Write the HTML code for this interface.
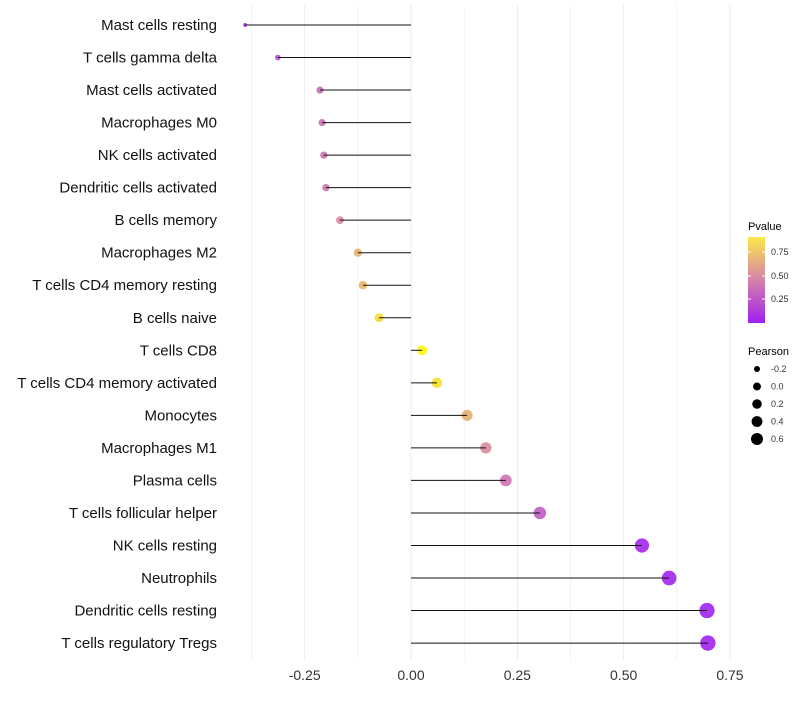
<!DOCTYPE html>
<html><head><meta charset="utf-8"><style>
body{margin:0;background:#fff;font-family:"Liberation Sans",sans-serif;}
</style></head><body>
<svg id="chart" width="800" height="700" xmlns="http://www.w3.org/2000/svg">
<defs><linearGradient id="pg" x1="0" y1="1" x2="0" y2="0">
<stop offset="0" stop-color="#A020F0"/><stop offset="0.55" stop-color="#D98CA0"/><stop offset="1" stop-color="#FBE94A"/>
</linearGradient></defs>
<g id="grid"></g><g id="marks"></g><g id="labels"></g><g id="legend"></g>
</svg>
<script>
const categories=["Mast cells resting","T cells gamma delta","Mast cells activated","Macrophages M0","NK cells activated","Dendritic cells activated","B cells memory","Macrophages M2","T cells CD4 memory resting","B cells naive","T cells CD8","T cells CD4 memory activated","Monocytes","Macrophages M1","Plasma cells","T cells follicular helper","NK cells resting","Neutrophils","Dendritic cells resting","T cells regulatory  Tregs"];
const pearson=[-0.39,-0.313,-0.214,-0.209,-0.205,-0.2,-0.167,-0.125,-0.113,-0.075,0.026,0.061,0.132,0.176,0.223,0.303,0.543,0.607,0.696,0.698];
const pvalue=[0.08,0.2,0.38,0.4,0.42,0.43,0.52,0.7,0.72,0.85,0.98,0.88,0.68,0.55,0.42,0.3,0.03,0.02,0.01,0.01];
const xTicks=[-0.25,0,0.25,0.5,0.75];
const xTickLabels=["-0.25","0.00","0.25","0.50","0.75"];
const NS="http://www.w3.org/2000/svg";
const X=v=>411+v*425.3;
const Y=i=>25+i*32.53;
const R=v=>Math.sqrt(Math.max(3,23.5+50*v));
const RL=v=>Math.sqrt(Math.max(1.5,15.75+33.75*v));
function col(p){
  const s=[[0,[160,32,240]],[0.55,[217,140,160]],[1,[255,255,0]]];
  for(let k=0;k<s.length-1;k++){if(p<=s[k+1][0]){const t=(p-s[k][0])/(s[k+1][0]-s[k][0]);const c=s[k][1].map((a,j)=>Math.round(a+(s[k+1][1][j]-a)*t));return `rgb(${c})`;}}
  return "rgb(255,255,0)";
}
function mk(tag,attrs,parent){const e=document.createElementNS(NS,tag);for(const k in attrs)e.setAttribute(k,attrs[k]);document.getElementById(parent).appendChild(e);return e;}
for(let g=-0.375;g<=0.751;g+=0.125){
  const l=mk("line",{x1:X(g),x2:X(g),y1:5,y2:660,stroke:"#ebebeb","stroke-width":Math.abs(g*4%1)<0.01?1:0.6},"grid");
  
  
}
xTicks.forEach((t,i)=>{
  const tx=mk("text",{x:X(t),y:680,"text-anchor":"middle","font-size":14,fill:"#333"},"labels");tx.textContent=xTickLabels[i];
  
  
});
categories.forEach((c,i)=>{
  const t=mk("text",{x:217,y:Y(i)+5,"text-anchor":"end","font-size":15,fill:"#111"},"labels");t.textContent=c;
  
  
  const p=mk("circle",{cx:X(pearson[i]),cy:Y(i),r:R(pearson[i]),fill:col(pvalue[i]),"fill-opacity":0.9},"marks");
  
  
  const s=mk("line",{x1:X(0),x2:X(pearson[i]),y1:Y(i),y2:Y(i),stroke:"#111","stroke-width":1},"marks");
  
  
});
const lt=mk("text",{x:748,y:230,"font-size":11},"legend");lt.textContent="Pvalue";


const cb=mk("rect",{x:748,y:237,width:17,height:86,fill:"url(#pg)"},"legend");


[[0.75,252],[0.5,276],[0.25,299]].forEach(([v,y])=>{
  mk("line",{x1:748,x2:751,y1:y,y2:y,stroke:"#fff"},"legend");mk("line",{x1:762,x2:765,y1:y,y2:y,stroke:"#fff"},"legend");
  const t=mk("text",{x:771,y:y+3,"font-size":9,fill:"#333"},"legend");t.textContent=v.toFixed(2);
  
  
});
const pt=mk("text",{x:748,y:355,"font-size":11},"legend");pt.textContent="Pearson";


[-0.2,0,0.2,0.4,0.6].forEach((v,i)=>{
  const y=369+i*17.5;
  const c=mk("circle",{cx:757,cy:y,r:RL(v),fill:"#000"},"legend");
  
  
  const t=mk("text",{x:771,y:y+3,"font-size":9,fill:"#333"},"legend");t.textContent=v.toFixed(1);
  
  
});
</script>
</body></html>
